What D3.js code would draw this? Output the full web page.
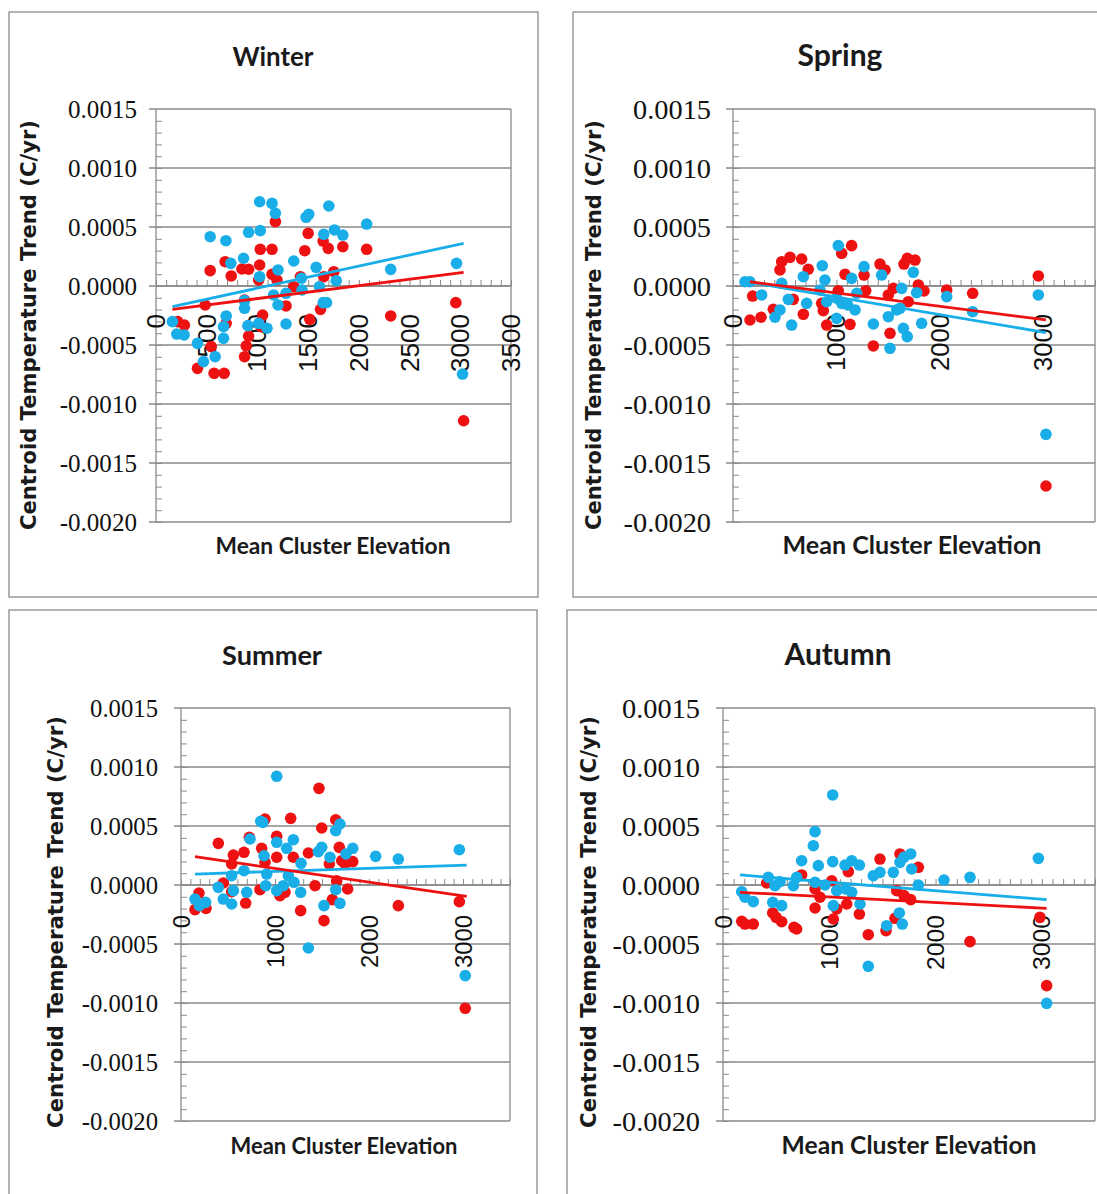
<!DOCTYPE html>
<html><head><meta charset="utf-8">
<script src="https://cdn.jsdelivr.net/npm/d3@7"></script>
<style>body{margin:0;background:#fff;} svg{display:block;}</style>
</head><body>
<svg id="c" width="1097" height="1194"></svg>
<script>
// ---------------- DATA ----------------
const seasons = ["Winter", "Spring", "Summer", "Autumn"];
const yTicks = [0.0015, 0.0010, 0.0005, 0.0000, -0.0005, -0.0010, -0.0015, -0.0020];
const yTickLabels = ["0.0015", "0.0010", "0.0005", "0.0000", "-0.0005", "-0.0010", "-0.0015", "-0.0020"];
const xTicksWinter = [0, 500, 1000, 1500, 2000, 2500, 3000, 3500];
const xTicksOther = [0, 1000, 2000, 3000];
const yTitle = "Centroid Temperature Trend (C/yr)";
const xTitle = "Mean Cluster Elevation";

const winterBlue = [[1022,0.000714],[1144,0.000700],[1177,0.000616],[1704,0.000678],[1480,0.000582],[1506,0.000607],[2077,0.000525],[534,0.000418],[689,0.000384],[913,0.000455],[1028,0.000469],[1654,0.000438],[1760,0.000475],[1842,0.000432],[863,0.000235],[738,0.000192],[1358,0.000212],[1579,0.000158],[1022,0.000079],[1203,0.000136],[1434,0.000066],[1777,0.000045],[2314,0.000141],[2963,0.000192],[1282,-0.000062],[1160,-0.000076],[1203,-0.000161],[1440,-0.000034],[1612,-0.000006],[873,-0.000124],[873,-0.000189],[1648,-0.000141],[1681,-0.000141],[692,-0.000254],[666,-0.000345],[666,-0.000443],[906,-0.000336],[1012,-0.000316],[1094,-0.000358],[1282,-0.000322],[162,-0.000302],[205,-0.000407],[277,-0.000415],[409,-0.000486],[468,-0.000641],[583,-0.000599],[3022,-0.000746]];
const winterRed = [[1177,0.000545],[1500,0.000446],[1648,0.000381],[1698,0.000319],[1842,0.000333],[2077,0.000311],[1028,0.000311],[1144,0.000311],[1467,0.000299],[682,0.000206],[1022,0.000178],[847,0.000144],[913,0.000142],[534,0.000130],[742,0.000085],[1144,0.000099],[1193,0.000051],[1654,0.000079],[1753,0.000121],[1424,0.000079],[1012,0.000051],[1358,-0.000006],[485,-0.000161],[873,-0.000119],[1282,-0.000169],[1622,-0.000198],[1516,-0.000282],[1051,-0.000246],[692,-0.000316],[214,-0.000302],[280,-0.000331],[2956,-0.000141],[2314,-0.000254],[913,-0.000424],[890,-0.000508],[873,-0.000599],[409,-0.000698],[573,-0.000740],[672,-0.000740],[3033,-0.001142],[1035,-0.000345],[544,-0.000514]];

const springBlue = [[1018,0.000342],[863,0.000172],[1267,0.000164],[1437,0.000093],[1743,0.000116],[164,0.000036],[471,0.000023],[680,0.000079],[889,0.000051],[1147,0.000065],[277,-0.000076],[535,-0.000113],[406,-0.000265],[567,-0.000331],[454,-0.000203],[712,-0.000147],[841,-0.000034],[906,-0.000133],[1002,-0.000104],[1051,-0.000147],[1109,-0.000161],[1180,-0.000203],[1196,-0.000062],[1002,-0.000274],[1357,-0.000322],[1502,-0.000260],[1583,-0.000203],[1615,-0.000189],[1647,-0.000359],[1685,-0.000429],[1518,-0.000528],[1824,-0.000316],[1631,-0.000020],[1776,-0.000057],[2066,-0.000090],[2317,-0.000218],[2952,-0.000076],[3026,-0.001257],[116,0.000036]];
const springRed = [[1147,0.000342],[1051,0.000277],[551,0.000243],[664,0.000229],[471,0.000206],[454,0.000136],[728,0.000142],[1421,0.000186],[1470,0.000136],[1685,0.000234],[1760,0.000220],[1653,0.000186],[1083,0.000099],[1267,0.000093],[1792,0.000009],[1847,-0.000042],[1550,-0.000020],[1502,-0.000076],[1695,-0.000133],[1018,-0.000040],[1283,-0.000040],[857,-0.000147],[873,-0.000209],[583,-0.000113],[680,-0.000240],[390,-0.000198],[190,-0.000085],[164,-0.000288],[271,-0.000265],[906,-0.000331],[1131,-0.000325],[1518,-0.000401],[1357,-0.000508],[2066,-0.000034],[2317,-0.000062],[2952,0.000085],[3026,-0.001695]];

const summerBlue = [[1018,0.000921],[848,0.000540],[870,0.000530],[1691,0.000517],[1646,0.000460],[1018,0.000362],[1195,0.000384],[734,0.000390],[1497,0.000319],[1461,0.000282],[1124,0.000311],[1827,0.000311],[1755,0.000263],[2071,0.000243],[2312,0.000220],[2961,0.000299],[883,0.000248],[1585,0.000235],[1277,0.000184],[912,0.000093],[1142,0.000079],[1202,0.000023],[670,0.000121],[539,0.000079],[397,-0.000020],[901,-0.000006],[1088,-0.000006],[1018,-0.000048],[1273,-0.000062],[699,-0.000062],[557,-0.000048],[450,-0.000119],[539,-0.000161],[149,-0.000119],[262,-0.000147],[195,-0.000175],[1646,-0.000040],[1521,-0.000175],[1691,-0.000155],[1355,-0.000534],[3024,-0.000768]];
const summerRed = [[1468,0.000819],[894,0.000559],[1646,0.000553],[1167,0.000565],[1497,0.000483],[727,0.000404],[1018,0.000413],[397,0.000353],[858,0.000311],[557,0.000254],[670,0.000277],[1355,0.000271],[1684,0.000319],[1195,0.000235],[1018,0.000235],[539,0.000178],[894,0.000192],[1578,0.000178],[1710,0.000206],[1827,0.000198],[1745,0.000178],[1656,0.000036],[450,0.000017],[1426,-0.000006],[840,-0.000040],[539,-0.000057],[1053,-0.000090],[1106,-0.000062],[1773,-0.000034],[1610,-0.000124],[688,-0.000153],[191,-0.000068],[149,-0.000209],[266,-0.000198],[1273,-0.000217],[1521,-0.000302],[2312,-0.000175],[2961,-0.000141],[3024,-0.001045]];

const autumnBlue = [[1032,0.000763],[866,0.000452],[850,0.000333],[740,0.000206],[1032,0.000198],[897,0.000164],[1148,0.000169],[1211,0.000206],[1283,0.000169],[1477,0.000107],[1414,0.000079],[1665,0.000192],[1766,0.000263],[1703,0.000235],[1775,0.000136],[1602,0.000107],[1838,0.000000],[2079,0.000042],[2324,0.000065],[2967,0.000226],[426,0.000065],[536,0.000028],[693,0.000065],[489,-0.000006],[662,-0.000006],[176,-0.000057],[207,-0.000104],[285,-0.000141],[468,-0.000147],[552,-0.000175],[866,0.000023],[960,0.000000],[1070,-0.000048],[1154,-0.000034],[1211,-0.000062],[1038,-0.000175],[1289,-0.000161],[1540,-0.000345],[1659,-0.000237],[1687,-0.000331],[1367,-0.000689],[3045,-0.001003]];
const autumnRed = [[1477,0.000220],[1665,0.000263],[1838,0.000150],[1179,0.000113],[740,0.000085],[411,0.000017],[1023,0.000036],[866,-0.000034],[1634,-0.000048],[1703,-0.000090],[1766,-0.000124],[1164,-0.000161],[1070,-0.000203],[866,-0.000195],[913,-0.000104],[1283,-0.000246],[1038,-0.000288],[468,-0.000237],[499,-0.000274],[552,-0.000311],[668,-0.000359],[693,-0.000373],[176,-0.000308],[207,-0.000331],[285,-0.000331],[1367,-0.000421],[1534,-0.000387],[1618,-0.000282],[2982,-0.000274],[2324,-0.000480],[3045,-0.000853]];

const winterTrendBlue = [[162,-0.000175],[3033,0.000362]];
const winterTrendRed  = [[162,-0.000198],[3033,0.000116]];
const springTrendBlue = [[132,0.000036],[3026,-0.000395]];
const springTrendRed  = [[164,0.000036],[3026,-0.000288]];
const summerTrendBlue = [[149,0.000093],[3039,0.000169]];
const summerTrendRed  = [[149,0.000240],[3039,-0.000096]];
const autumnTrendBlue = [[160,0.000085],[3045,-0.000124]];
const autumnTrendRed  = [[160,-0.000062],[3045,-0.000198]];

// ---------------- LAYOUT / STYLE ----------------
const BLUE = "#19aee8", RED = "#ee1111", GRID = "#8a8a8a", BORDER = "#9a9a9a";
const panels = [
  {name:"Winter", blue:winterBlue, red:winterRed, tb:winterTrendBlue, tr:winterTrendRed, xt:xTicksWinter,
   box:[9,12,538,597], l:156, r:511, t:109, b:522, tx:273, ty:66, tw:81, xtx:333, xty:554, xtw:235,
   ytx:28, yty:325, ytl:410, ylx:137, ylw:69, xlo:28, xlw:58},
  {name:"Spring", blue:springBlue, red:springRed, tb:springTrendBlue, tr:springTrendRed, xt:xTicksOther,
   box:[573,12,1110,597], l:733, r:1095, t:109, b:522, tx:840, ty:66, tw:85, xtx:912, xty:554, xtw:259,
   ytx:593, yty:325, ytl:410, ylx:711, ylw:78, xlo:28, xlw:57},
  {name:"Summer", blue:summerBlue, red:summerRed, tb:summerTrendBlue, tr:summerTrendRed, xt:xTicksOther,
   box:[9,610,537,1200], l:181, r:510, t:708, b:1121, tx:272, ty:665, tw:100, xtx:344, xty:1154, xtw:227,
   ytx:55, yty:922, ytl:412, ylx:158, ylw:68, xlo:30, xlw:53},
  {name:"Autumn", blue:autumnBlue, red:autumnRed, tb:autumnTrendBlue, tr:autumnTrendRed, xt:xTicksOther,
   box:[567,610,1110,1200], l:723, r:1095, t:708, b:1121, tx:838, ty:665, tw:107, xtx:909, xty:1154, xtw:255,
   ytx:588, yty:922, ytl:412, ylx:700, ylw:78, xlo:30, xlw:55}
];

const svg = d3.select("#c");
svg.append("rect").attr("width",1097).attr("height",1194).attr("fill","#fff");

function fitText(sel, target) {
  const w = sel.node().getComputedTextLength();
  const fs = parseFloat(sel.attr("font-size"));
  if (w > 0) sel.attr("font-size", (fs * target / w).toFixed(2));
  return parseFloat(sel.attr("font-size"));
}

panels.forEach(p => {
  const g = svg.append("g");
  const [bx0, by0, bx1, by1] = p.box;
  g.append("rect").attr("x", bx0).attr("y", by0).attr("width", bx1-bx0).attr("height", by1-by0)
    .attr("fill", "#fff").attr("stroke", BORDER).attr("stroke-width", 1.5);

  const x = d3.scaleLinear().domain([0, 3500]).range([p.l, p.r]);
  const y = d3.scaleLinear().domain([-0.0020, 0.0015]).range([p.b, p.t]);

  // gridlines (with outside major tick)
  g.selectAll(".grid").data(yTicks).enter().append("line")
    .attr("x1", p.l - 7).attr("x2", p.r)
    .attr("y1", d => y(d)).attr("y2", d => y(d))
    .attr("stroke", GRID).attr("stroke-width", 1.3);
  // right border of plot
  g.append("line").attr("x1", p.r).attr("x2", p.r).attr("y1", p.t).attr("y2", p.b)
    .attr("stroke", GRID).attr("stroke-width", 1.3);

  // y axis line + minor ticks inside
  const yAxis = d3.axisRight(y).tickValues(d3.range(-20, 15).map(i => i * 0.0001))
    .tickSize(6).tickFormat("");
  const ya = g.append("g").attr("transform", `translate(${p.l},0)`).call(yAxis);
  ya.select(".domain").attr("stroke", GRID).attr("stroke-width", 1.3).attr("d", `M0,${p.t}V${p.b}`);
  ya.selectAll(".tick line").attr("stroke", GRID).attr("stroke-width", 1);

  // x axis at y=0 with minor ticks upward
  const xAxis = d3.axisTop(x).tickValues(d3.range(0, 36).map(i => i * 100)).tickSize(6).tickFormat("");
  const xa = g.append("g").attr("transform", `translate(0,${y(0)})`).call(xAxis);
  xa.select(".domain").attr("stroke", GRID).attr("stroke-width", 1.3).attr("d", `M${p.l},0H${p.r}`);
  xa.selectAll(".tick line").attr("stroke", GRID).attr("stroke-width", 1);

  // y tick labels
  const yl = g.selectAll(".yl").data(yTicks).enter().append("text")
    .attr("x", p.ylx).attr("y", d => y(d))
    .attr("text-anchor", "end").attr("dominant-baseline", "central")
    .attr("font-family", "'Liberation Serif', serif").attr("font-size", 22).attr("fill", "#111")
    .text((d, i) => yTickLabels[i]);
  const yfs = fitText(yl.filter((d, i) => i === 0), p.ylw);
  yl.attr("font-size", yfs);

  // x tick labels (rotated)
  const xl = g.selectAll(".xl").data(p.xt).enter().append("text")
    .attr("transform", d => `translate(${x(d)},${y(0) + p.xlo}) rotate(-90)`)
    .attr("text-anchor", "end").attr("dominant-baseline", "central")
    .attr("font-family", "'Liberation Sans', Arial, sans-serif").attr("font-size", 24).attr("fill", "#111")
    .text(d => String(d));
  const xfs = fitText(xl.filter(d => d === 1000), p.xlw);
  xl.attr("font-size", xfs);

  // points (red under blue)
  g.selectAll(".pr").data(p.red).enter().append("circle")
    .attr("cx", d => x(d[0])).attr("cy", d => y(d[1])).attr("r", 5.8).attr("fill", RED);
  g.selectAll(".pb").data(p.blue).enter().append("circle")
    .attr("cx", d => x(d[0])).attr("cy", d => y(d[1])).attr("r", 5.8).attr("fill", BLUE);

  // trendlines
  const line = d3.line().x(d => x(d[0])).y(d => y(d[1]));
  g.append("path").datum(p.tb).attr("d", line).attr("stroke", BLUE).attr("stroke-width", 2.8).attr("fill", "none");
  g.append("path").datum(p.tr).attr("d", line).attr("stroke", RED).attr("stroke-width", 2.8).attr("fill", "none");

  // titles
  const t = g.append("text").attr("x", p.tx).attr("y", p.ty).attr("text-anchor", "middle")
    .attr("font-family", "Lato, 'Open Sans', sans-serif").attr("font-weight", 700)
    .attr("font-size", 26).attr("fill", "#1a1a1a").text(p.name);
  fitText(t, p.tw);

  const xtEl = g.append("text").attr("x", p.xtx).attr("y", p.xty).attr("text-anchor", "middle")
    .attr("font-family", "Lato, 'Open Sans', sans-serif").attr("font-weight", 700)
    .attr("font-size", 24).attr("fill", "#1a1a1a").text(xTitle);
  fitText(xtEl, p.xtw);

  const ytEl = g.append("text")
    .attr("transform", `translate(${p.ytx},${p.yty}) rotate(-90)`)
    .attr("text-anchor", "middle").attr("dominant-baseline", "central")
    .attr("font-family", "'DejaVu Sans', Verdana, sans-serif").attr("font-weight", 700)
    .attr("font-size", 18).attr("fill", "#1a1a1a").text(yTitle);
  fitText(ytEl, p.ytl);
});
</script>
</body></html>
